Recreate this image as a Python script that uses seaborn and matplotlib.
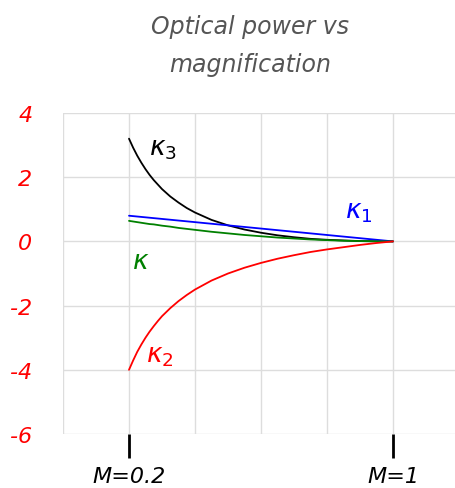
import numpy as np
import pandas as pd
import seaborn as sns
import matplotlib.pyplot as plt
from matplotlib.ticker import FixedLocator

# magnification values and optical powers
magnification = [0.2, 0.2125, 0.225, 0.2375, 0.25, 0.2625, 0.275, 0.2875, 0.3,
                 0.325, 0.35, 0.375, 0.4, 0.45, 0.5, 0.55, 0.6, 0.65, 0.7,
                 0.75, 0.8, 0.85, 0.9, 0.95, 1.0]
kappa_1 = [0.8, 0.7875, 0.775, 0.7625, 0.75, 0.7375, 0.725, 0.7125, 0.7,
           0.675, 0.65, 0.625, 0.6, 0.55, 0.5, 0.45, 0.4, 0.35, 0.3,
           0.25, 0.2, 0.15, 0.1, 0.05, 0.0]
kappa_2 = [-4.0, -3.71, -3.44, -3.21, -3.0, -2.81, -2.64, -2.48, -2.33,
           -2.08, -1.86, -1.67, -1.5, -1.22, -1.0, -0.82, -0.67, -0.54, -0.43,
           -0.33, -0.25, -0.18, -0.11, -0.05, 0.0]
kappa_3 = [3.2, 2.92, 2.67, 2.45, 2.25, 2.07, 1.91, 1.77, 1.63,
           1.40, 1.21, 1.04, 0.9, 0.67, 0.5, 0.37, 0.27, 0.19, 0.13,
           0.08, 0.05, 0.03, 0.01, 0.003, 0.0]
kappa = [0.64, 0.62, 0.60, 0.58, 0.56, 0.54, 0.53, 0.51, 0.49,
         0.46, 0.42, 0.39, 0.36, 0.30, 0.25, 0.20, 0.16, 0.12, 0.09,
         0.06, 0.04, 0.02, 0.01, 0.003, 0.0]

y_ticks = [4, 2, 0, -2, -4, -6]
x_ticks = [0.2, 1.0]
x_tick_labels = ["M=0.2", "M=1"]

series = {"k3": kappa_3, "k1": kappa_1, "k": kappa, "k2": kappa_2}
colors = {"k3": "black", "k1": "blue", "k": "green", "k2": "red"}

df = pd.DataFrame([(m, name, v) for name, vals in series.items()
                   for m, v in zip(magnification, vals)],
                  columns=["M", "curve", "power"])

sns.set_style("whitegrid")
plt.rcParams["font.family"] = ["DejaVu Sans"]

fig = plt.figure(figsize=(4.56, 4.89), dpi=100)
ax = fig.add_axes([63 / 456, 1 - 435 / 489, (459 - 63) / 456, (435 - 114) / 489])

sns.lineplot(data=df, x="M", y="power", hue="curve", palette=colors,
             linewidth=1.3, legend=False, ax=ax)

ax.set_xlim(0, 1.2)
ax.set_ylim(-6, 4)
ax.xaxis.set_major_locator(FixedLocator(x_ticks))
ax.xaxis.set_minor_locator(FixedLocator([0.0, 0.4, 0.6, 0.8, 1.2]))
ax.set_xticklabels(x_tick_labels, fontsize=16, style="italic", color="black")
ax.set_yticks(y_ticks)
ax.set_yticklabels([str(t) for t in y_ticks], fontsize=16, style="italic", color="red")
ax.tick_params(axis="x", which="major", direction="out", length=17, width=2,
               color="black", bottom=True, pad=6)
ax.tick_params(axis="x", which="minor", length=0)
ax.tick_params(axis="y", length=0, pad=22)
ax.grid(True, which="both", color="#dddddd", linewidth=1)
for s in ax.spines.values():
    s.set_visible(False)
ax.set_xlabel("")
ax.set_ylabel("")

# curve labels
lbl = dict(fontsize=19, style="italic", va="center", ha="left")
ax.text(0.26, 2.9, r"$\kappa_3$", color="black", **lbl)
ax.text(0.855, 0.95, r"$\kappa_1$", color="blue", **lbl)
ax.text(0.21, -0.6, r"$\kappa$", color="green", **lbl)
ax.text(0.25, -3.55, r"$\kappa_2$", color="red", **lbl)

fig.text(250 / 456, 1 - 46 / 489, "Optical power vs\nmagnification",
         ha="center", va="center", fontsize=17, style="italic",
         color="#555555", linespacing=1.75)

fig.savefig("out.png", dpi=100)
